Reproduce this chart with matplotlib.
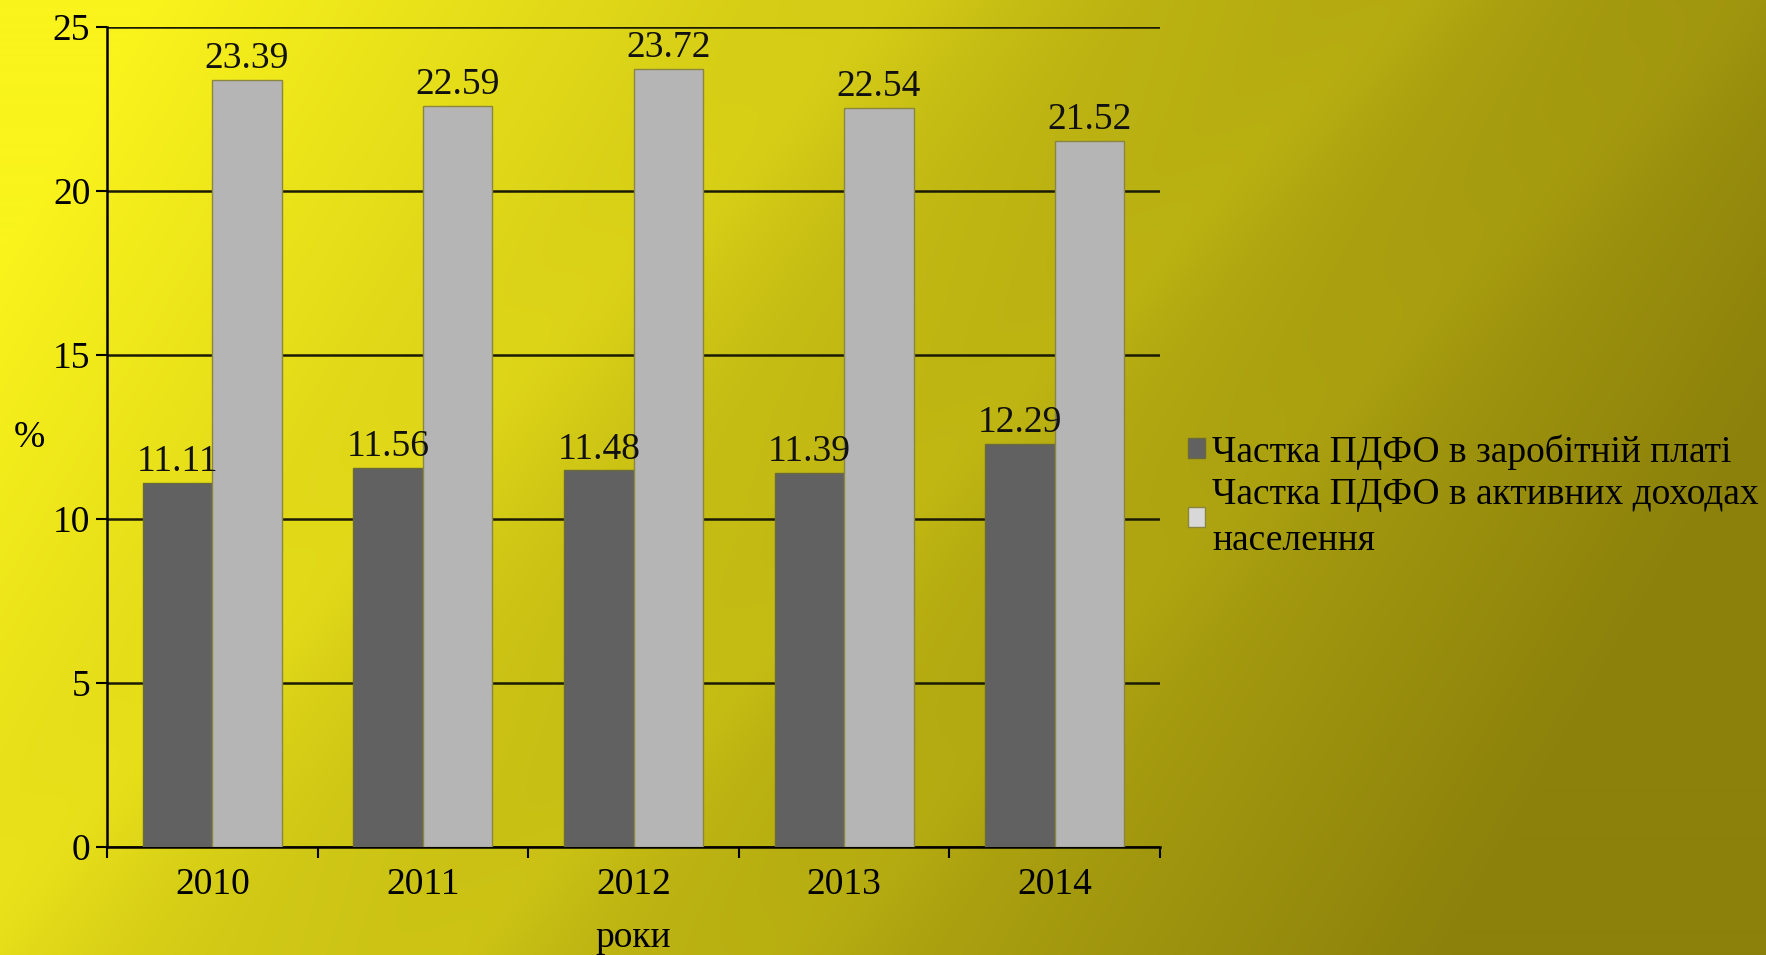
import numpy as np
import matplotlib
matplotlib.use("Agg")
import matplotlib.pyplot as plt
from matplotlib.patches import Patch

plt.rcParams['font.family'] = ['Liberation Serif', 'DejaVu Serif']

years = ['2010', '2011', '2012', '2013', '2014']
wage_share = [11.11, 11.56, 11.48, 11.39, 12.29]
income_share = [23.39, 22.59, 23.72, 22.54, 21.52]
series_names = ['Частка ПДФО в заробітній платі',
                'Частка ПДФО в активних доходах\nнаселення']

W, H = 1766, 955
fig = plt.figure(figsize=(W / 100, H / 100), dpi=100)

# yellow-to-olive backdrop with soft diagonal streaks
yy, xx = np.mgrid[0:H, 0:W]
s = np.clip(0.95 * xx / W + 0.3 * yy / H - 0.08, 0, 1)
d = (xx + yy) / (W + H)
streak = (0.05 * np.exp(-((d - 0.33) / 0.03) ** 2)
          + 0.05 * np.exp(-((d - 0.52) / 0.025) ** 2)
          - 0.03 * np.exp(-((d - 0.42) / 0.04) ** 2)
          + 0.04 * np.exp(-((d - 0.64) / 0.03) ** 2))
bright = np.array([250, 243, 28]) / 255
dark = np.array([140, 129, 11]) / 255
s = np.clip(s - streak, 0, 1)
bg = bright[None, None, :] * (1 - s[..., None]) + dark[None, None, :] * s[..., None]
bg_ax = fig.add_axes([0, 0, 1, 1], zorder=-10)
bg_ax.imshow(bg, aspect='auto', extent=[0, 1, 0, 1])
bg_ax.axis('off')

ax = fig.add_axes([107 / W, 1 - 847 / H, (1160 - 107) / W, (847 - 27) / H])
ax.patch.set_alpha(0)

x = np.arange(len(years))
w = 0.33
b1 = ax.bar(x - w / 2, wage_share, w, color='#616161', edgecolor='#6b6a3a',
            linewidth=1, zorder=3, label=series_names[0])
b2 = ax.bar(x + w / 2, income_share, w, color='#b5b5b5', edgecolor='#8a8640',
            linewidth=1, zorder=3, label=series_names[1])

for bars, vals in ((b1, wage_share), (b2, income_share)):
    for r, v in zip(bars, vals):
        ax.text(r.get_x() + r.get_width() / 2, v + 0.12, f'{v:.2f}',
                ha='center', va='bottom', fontsize=27, color='#111111', zorder=4)

ax.set_ylim(0, 25)
ax.set_xlim(-0.5, len(years) - 0.5)
ax.set_yticks([0, 5, 10, 15, 20, 25])
ax.yaxis.grid(True, color='#1a1a05', linewidth=1.8, zorder=1)
ax.set_axisbelow(True)

ax.set_xticks(x)
ax.set_xticklabels(years)
ax.set_xticks(np.arange(-0.5, len(years)), minor=True)
ax.tick_params(axis='x', which='major', length=0, pad=15, labelsize=27)
ax.tick_params(axis='x', which='minor', length=8, width=1.5, direction='out')
ax.tick_params(axis='y', length=8, width=1.5, pad=4, labelsize=27)

for side in ('top', 'right'):
    ax.spines[side].set_visible(False)
ax.spines['left'].set_linewidth(1.8)
ax.spines['bottom'].set_linewidth(1.8)

fig.text(29 / W, 1 - 438 / H, '%', fontsize=27, ha='center', va='center')
fig.text(633 / W, 1 - 947 / H, 'роки', fontsize=27, ha='center', va='baseline')

handles = [Patch(facecolor='#616161', edgecolor='#6b6a3a'),
           Patch(facecolor='#d8d8d8', edgecolor='#8a8640')]
leg = fig.legend(handles, series_names, loc='center left',
                 bbox_to_anchor=(1188 / W, 1 - 496 / H), frameon=False,
                 fontsize=27, handlelength=0.45, handleheight=0.45,
                 handletextpad=0.2, borderpad=0, borderaxespad=0,
                 labelspacing=0.2)
for t in leg.get_texts():
    t.set_linespacing(1.45)

fig.savefig('out.png', dpi=100)
